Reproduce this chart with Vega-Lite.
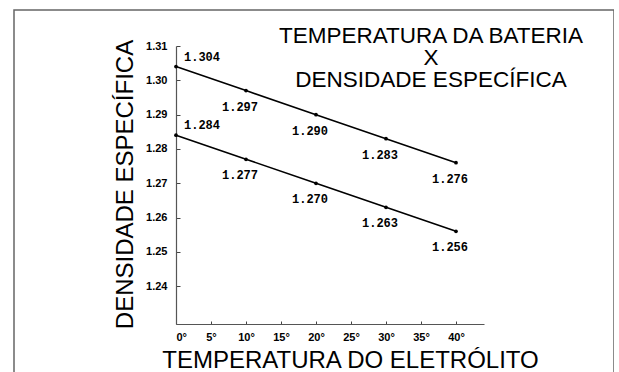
{
  "$schema": "https://vega.github.io/schema/vega-lite/v6.json",
  "autosize": {"type": "none"},
  "padding": {"left": 14, "top": 10, "right": 0, "bottom": 0},
  "width": 600,
  "height": 370,
  "background": "white",
  "config": {
    "view": {"stroke": "#666666", "strokeWidth": 1.5},
    "font": "Liberation Sans"
  },
  "title": {
    "text": ["TEMPERATURA DA BATERIA", "X", "DENSIDADE ESPECÍFICA"],
    "frame": "group",
    "anchor": "middle",
    "align": "center",
    "baseline": "alphabetic",
    "font": "Liberation Sans",
    "fontWeight": "normal",
    "fontSize": 22.5,
    "lineHeight": 22,
    "color": "#000000",
    "offset": 0,
    "dx": 117,
    "dy": 99
  },
  "data": {
    "values": [
      {"temp": 0, "dens": 1.304, "serie": "A"},
      {"temp": 10, "dens": 1.297, "serie": "A"},
      {"temp": 20, "dens": 1.290, "serie": "A"},
      {"temp": 30, "dens": 1.283, "serie": "A"},
      {"temp": 40, "dens": 1.276, "serie": "A"},
      {"temp": 0, "dens": 1.284, "serie": "B"},
      {"temp": 10, "dens": 1.277, "serie": "B"},
      {"temp": 20, "dens": 1.270, "serie": "B"},
      {"temp": 30, "dens": 1.263, "serie": "B"},
      {"temp": 40, "dens": 1.256, "serie": "B"}
    ]
  },
  "encoding": {
    "x": {
      "field": "temp",
      "type": "quantitative",
      "scale": {"domain": [0, 44], "range": [162, 470], "nice": false, "zero": false},
      "axis": {
        "offset": -56,
        "values": [0, 5, 10, 15, 20, 25, 30, 35, 40],
        "labelExpr": "datum.value + '°'",
        "labelFont": "Liberation Sans",
        "labelFontWeight": "bold",
        "labelFontSize": 11,
        "labelColor": "#000000",
        "labelPadding": 10,
        "tickSize": -3,
        "tickColor": "#444444",
        "domainColor": "#555555",
        "domainWidth": 1.2,
        "grid": false,
        "title": "TEMPERATURA DO ELETRÓLITO",
        "titleFont": "Liberation Sans",
        "titleFontWeight": "normal",
        "titleFontSize": 24,
        "titleColor": "#000000",
        "titleBaseline": "alphabetic",
        "titleAlign": "center",
        "titleX": 336,
        "titleY": 43
      }
    },
    "y": {
      "field": "dens",
      "type": "quantitative",
      "scale": {"domain": [1.229, 1.31], "range": [314, 36], "nice": false, "zero": false},
      "axis": {
        "offset": -162,
        "values": [1.24, 1.25, 1.26, 1.27, 1.28, 1.29, 1.30, 1.31],
        "format": ".2f",
        "labelFont": "Liberation Sans",
        "labelFontWeight": "bold",
        "labelFontSize": 11,
        "labelColor": "#000000",
        "labelPadding": 13,
        "tickSize": -4,
        "tickColor": "#444444",
        "domainColor": "#555555",
        "domainWidth": 1.2,
        "grid": false,
        "title": "DENSIDADE ESPECÍFICA",
        "titleFont": "Liberation Sans",
        "titleFontWeight": "normal",
        "titleFontSize": 24,
        "titleColor": "#000000",
        "titleAngle": -90,
        "titleBaseline": "alphabetic",
        "titleAlign": "center",
        "titleX": -44,
        "titleY": 174
      }
    }
  },
  "layer": [
    {
      "mark": {"type": "line", "color": "#000000", "strokeWidth": 1.6, "clip": false},
      "encoding": {"detail": {"field": "serie", "type": "nominal"}}
    },
    {
      "mark": {"type": "point", "filled": true, "color": "#000000", "size": 14, "opacity": 1}
    },
    {
      "transform": [{"filter": "datum.temp == 0"}],
      "mark": {"type": "text", "font": "Liberation Mono", "fontWeight": "bold", "fontSize": 12, "dx": 26, "dy": -10, "baseline": "middle", "align": "center", "color": "#000000"},
      "encoding": {"text": {"field": "dens", "type": "quantitative", "format": ".3f"}}
    },
    {
      "transform": [{"filter": "datum.temp > 0"}],
      "mark": {"type": "text", "font": "Liberation Mono", "fontWeight": "bold", "fontSize": 12, "dx": -6, "dy": 16, "baseline": "middle", "align": "center", "color": "#000000"},
      "encoding": {"text": {"field": "dens", "type": "quantitative", "format": ".3f"}}
    }
  ]
}
